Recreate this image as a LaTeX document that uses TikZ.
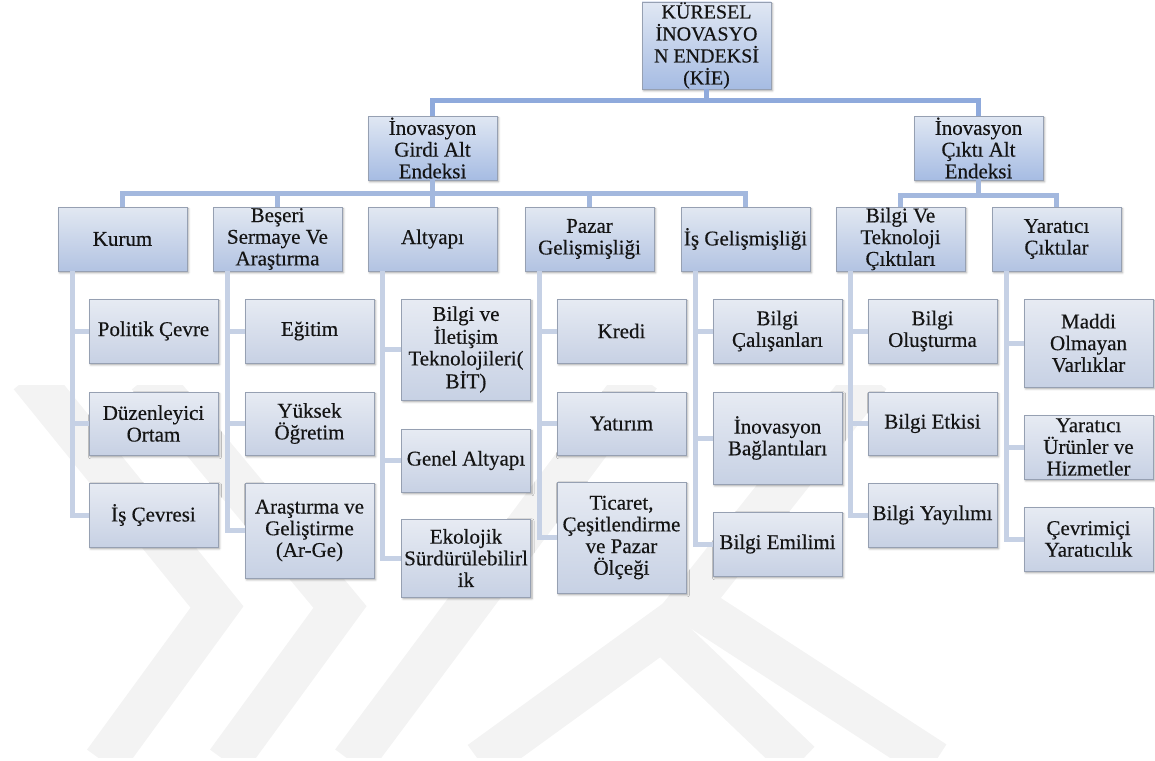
\documentclass[tikz,border=0pt]{standalone}
\usepackage{fontspec}
\setmainfont{Liberation Serif}[UprightFeatures={FakeBold=0.35}]
\usetikzlibrary{shadows.blur}
\definecolor{topA}{RGB}{224,231,243}
\definecolor{botA}{RGB}{166,188,227}
\definecolor{topB}{RGB}{226,232,242}
\definecolor{botB}{RGB}{178,195,226}
\definecolor{topC}{RGB}{231,235,243}
\definecolor{botC}{RGB}{199,209,228}
\definecolor{bord}{RGB}{150,160,178}
\definecolor{lnAcol}{RGB}{143,170,220}
\definecolor{lnBcol}{RGB}{163,184,222}
\definecolor{lnCcol}{RGB}{198,209,229}
\definecolor{wmcol}{RGB}{243,243,243}
\definecolor{txt}{RGB}{20,20,20}
\begin{document}
\begin{tikzpicture}[x=1pt,y=-1pt,
  basebox/.style={draw=bord, line width=0.7pt, inner sep=0pt, align=center,
    minimum width=129pt, text=txt,
    blur shadow={shadow xshift=1.5pt, shadow yshift=-1.8pt, shadow blur radius=2pt, shadow opacity=35},
    font=\fontsize{21}{21.7}\selectfont},
  boxA/.style={basebox, top color=topA, bottom color=botA},
  boxB/.style={basebox, top color=topB, bottom color=botB, minimum height=64pt},
  boxC/.style={basebox, top color=topC, bottom color=botC},
  lnA/.style={draw=lnAcol, line width=5pt},
  lnB/.style={draw=lnBcol, line width=5pt},
  lnC/.style={draw=lnCcol, line width=5pt},
  wm/.style={draw=wmcol, line width=42pt, line join=miter}]
\useasboundingbox (0,0) rectangle (1155,760);
% watermark
\begin{scope}
\clip (0,385) rectangle (1155,757);
\draw[wm] (30,376) -- (217,607) -- (104,762);
\draw[wm] (148,376) -- (340,607) -- (227,762);
\draw[wm] (640,376) -- (352,762);
\draw[wm] (480,762) -- (662,630) -- (800,762);
\draw[wm] (870,376) -- (690,603) -- (935,762);
\end{scope}
% level 0 and 1
\node[boxA, minimum height=87pt, font=\fontsize{20}{22}\selectfont] (kie) at (706.5,45.5) {KÜRESEL\\İNOVASYO\\N ENDEKSİ\\(KİE)};
\node[boxA, minimum height=64pt] (girdi) at (432.5,148) {İnovasyon\\Girdi Alt\\Endeksi};
\node[boxA, minimum height=64pt] (cikti) at (978.5,148) {İnovasyon\\Çıktı Alt\\Endeksi};
% level 2
\node[boxB] (kurum) at (122.5,239) {Kurum};
\node[boxB] (beseri) at (277.5,239) {Beşeri\\Sermaye Ve\\Araştırma};
\node[boxB] (altyapi) at (432.5,239) {Altyapı};
\node[boxB] (pazar) at (589.5,239) {Pazar\\Gelişmişliği};
\node[boxB] (isgel) at (745.5,239) {İş Gelişmişliği};
\node[boxB] (bilgitek) at (900.5,239) {Bilgi Ve\\Teknoloji\\Çıktıları};
\node[boxB] (yaratici) at (1056.5,239) {Yaratıcı\\Çıktılar};
% level 3 - Kurum
\node[boxC, minimum height=64pt] (k1) at (153.5,331) {Politik Çevre};
\node[boxC, minimum height=63pt] (k2) at (153.5,423.5) {Düzenleyici\\Ortam};
\node[boxC, minimum height=64pt] (k3) at (153.5,515) {İş Çevresi};
% Beseri
\node[boxC, minimum height=64pt] (b1) at (309.5,331) {Eğitim};
\node[boxC, minimum height=63pt] (b2) at (309.5,423.5) {Yüksek\\Öğretim};
\node[boxC, minimum height=95pt] (b3) at (309.5,530.5) {Araştırma ve\\Geliştirme\\(Ar-Ge)};
% Altyapi
\node[boxC, minimum height=101pt] (a1) at (466,349.5) {Bilgi ve\\İletişim\\Teknolojileri(\\BİT)};
\node[boxC, minimum height=63pt] (a2) at (466,460.5) {Genel Altyapı};
\node[boxC, minimum height=78pt] (a3) at (466,558) {Ekolojik\\Sürdürülebilirl\\ik};
% Pazar
\node[boxC, minimum height=64pt] (p1) at (621.5,331) {Kredi};
\node[boxC, minimum height=63pt] (p2) at (621.5,423.5) {Yatırım};
\node[boxC, minimum height=111pt] (p3) at (621.5,537.5) {Ticaret,\\Çeşitlendirme\\ve Pazar\\Ölçeği};
% Is gelismisligi
\node[boxC, minimum height=64pt] (i1) at (777.5,331) {Bilgi\\Çalışanları};
\node[boxC, minimum height=92pt] (i2) at (777.5,438) {İnovasyon\\Bağlantıları};
\node[boxC, minimum height=64pt] (i3) at (777.5,544) {Bilgi Emilimi};
% Bilgi ve teknoloji
\node[boxC, minimum height=64pt] (t1) at (932.5,331) {Bilgi\\Oluşturma};
\node[boxC, minimum height=63pt] (t2) at (932.5,423.5) {Bilgi Etkisi};
\node[boxC, minimum height=64pt] (t3) at (932.5,515) {Bilgi Yayılımı};
% Yaratici
\node[boxC, minimum height=88pt] (y1) at (1088.5,343) {Maddi\\Olmayan\\Varlıklar};
\node[boxC, minimum height=64pt] (y2) at (1088.5,447) {Yaratıcı\\Ürünler ve\\Hizmetler};
\node[boxC, minimum height=64pt] (y3) at (1088.5,539) {Çevrimiçi\\Yaratıcılık};
% connectors level 0 -> 1
\coordinate (h0) at (706.5,100);
\draw[lnA] (kie.south) -- (h0);
\draw[lnA] (girdi.north) -- (girdi.north |- h0) -- (cikti.north |- h0) -- (cikti.north);
% level 1 -> 2
\coordinate (h1) at (432.5,193);
\coordinate (h2) at (978.5,195);
\draw[lnB] (girdi.south) -- (h1);
\draw[lnB] (kurum.north) -- (kurum.north |- h1) -- (isgel.north |- h1) -- (isgel.north);
\draw[lnB] (beseri.north) -- (beseri.north |- h1);
\draw[lnB] (altyapi.north) -- (altyapi.north |- h1);
\draw[lnB] (pazar.north) -- (pazar.north |- h1);
\draw[lnB] (cikti.south) -- (h2);
\draw[lnB] (bilgitek.north) -- (bilgitek.north |- h2) -- (yaratici.north |- h2) -- (yaratici.north);
% level 2 -> 3
\foreach \p/\a/\b/\c in {kurum/k1/k2/k3, beseri/b1/b2/b3, altyapi/a1/a2/a3, pazar/p1/p2/p3, isgel/i1/i2/i3, bilgitek/t1/t2/t3, yaratici/y1/y2/y3}{
  \draw[lnC] ([xshift=15pt]\p.south west) |- (\c.west);
  \draw[lnC] ([xshift=15pt]\p.south west) |- (\a.west);
  \draw[lnC] ([xshift=15pt]\p.south west) |- (\b.west);
}
\end{tikzpicture}
\end{document}
